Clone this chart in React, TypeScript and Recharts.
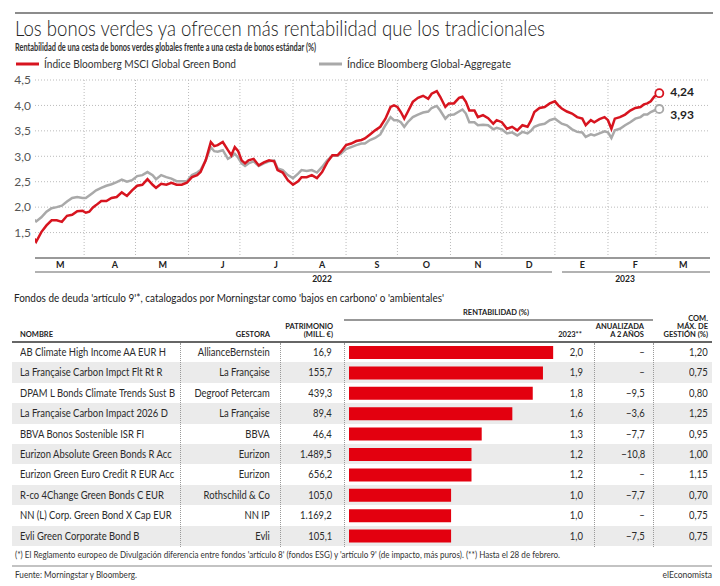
import { LineChart, Line, XAxis, YAxis, CartesianGrid, ReferenceLine, BarChart, Bar } from 'recharts'

// eje x: días desde el 1 de marzo de 2022
const days = [
  2, 3, 6, 9, 12, 15, 18, 21, 24, 27, 30, 32, 34, 36, 38, 41, 44, 47, 50, 53, 56, 59, 62, 65, 68, 71, 73, 76, 79, 82, 85, 88, 91, 94, 97,
  99, 102, 105, 107, 109, 112, 115, 117, 119, 121, 123, 125, 127, 130, 133, 136, 139, 142, 144, 147, 150, 153, 156, 158, 161, 164, 167, 170, 173, 176, 179, 181, 184, 187, 190, 193,
  195, 198, 201, 204, 207, 210, 212, 214, 216, 218, 220, 223, 226, 229, 232, 234, 237, 239, 242, 244, 247, 250, 252, 254, 256, 259, 261, 264, 267, 270, 272, 275, 278, 281, 284, 287, 290,
  292, 294, 297, 300, 303, 306, 308, 310, 313, 316, 319, 322, 324, 327, 329, 332, 335, 337, 339, 341, 344, 347, 350, 353, 356, 358, 360, 362, 364, 367,
]
const greenBond = [
  1.38, 1.32, 1.51, 1.64, 1.74, 1.74, 1.71, 1.83, 1.85, 1.92, 1.93, 1.89, 1.91, 1.99, 2.04, 2.12, 2.12, 2.18, 2.2, 2.29, 2.22, 2.33, 2.42, 2.44, 2.55, 2.44, 2.38, 2.46, 2.44, 2.48, 2.44, 2.44, 2.48, 2.59, 2.63,
  2.69, 2.92, 3.28, 3.2, 3.22, 3.28, 3.12, 3.02, 3.18, 3.1, 2.92, 2.86, 2.92, 2.95, 2.82, 2.88, 2.92, 2.9, 2.73, 2.68, 2.53, 2.44, 2.51, 2.59, 2.59, 2.63, 2.57, 2.69, 2.88, 3.02, 3.02, 3.09, 3.22, 3.25, 3.3, 3.32,
  3.35, 3.43, 3.51, 3.58, 3.74, 3.97, 4.0, 3.97, 3.87, 3.74, 3.87, 4.07, 4.15, 4.19, 4.13, 4.23, 4.28, 4.17, 3.97, 4.04, 4.04, 4.15, 4.17, 4.07, 3.9, 3.9, 3.77, 3.81, 3.75, 3.64, 3.71, 3.67, 3.54, 3.58, 3.51, 3.61, 3.58,
  3.7, 3.87, 3.95, 3.97, 4.04, 4.08, 4.0, 3.94, 3.88, 3.84, 3.77, 3.74, 3.61, 3.71, 3.67, 3.73, 3.77, 3.71, 3.54, 3.74, 3.77, 3.82, 3.9, 3.95, 3.97, 4.02, 4.04, 4.08, 4.17, 4.24,
]
const globalAgg = [
  1.75, 1.72, 1.8, 1.91, 1.98, 2.0, 2.03, 2.11, 2.18, 2.2, 2.18, 2.18, 2.23, 2.28, 2.33, 2.38, 2.42, 2.45, 2.49, 2.54, 2.5, 2.53, 2.61, 2.63, 2.69, 2.63, 2.55, 2.63, 2.59, 2.56, 2.51, 2.51, 2.51, 2.63, 2.68,
  2.73, 2.92, 3.18, 3.1, 3.09, 3.12, 2.95, 2.99, 3.05, 2.97, 2.86, 2.81, 2.86, 2.9, 2.81, 2.86, 2.9, 2.92, 2.76, 2.73, 2.63, 2.57, 2.66, 2.73, 2.71, 2.73, 2.68, 2.79, 2.92, 3.01, 3.01, 3.05, 3.14, 3.18, 3.22, 3.25,
  3.25, 3.32, 3.36, 3.43, 3.61, 3.77, 3.71, 3.71, 3.67, 3.58, 3.67, 3.77, 3.82, 3.86, 3.88, 3.95, 3.99, 3.9, 3.74, 3.81, 3.82, 3.88, 3.92, 3.84, 3.67, 3.67, 3.61, 3.62, 3.61, 3.53, 3.56, 3.53, 3.45, 3.47, 3.41, 3.48, 3.45,
  3.5, 3.58, 3.62, 3.64, 3.71, 3.74, 3.69, 3.64, 3.61, 3.53, 3.48, 3.47, 3.38, 3.43, 3.41, 3.45, 3.49, 3.47, 3.36, 3.51, 3.54, 3.61, 3.67, 3.74, 3.77, 3.82, 3.82, 3.87, 3.9, 3.93,
]

const monthStarts = [31, 61, 92, 122, 153, 184, 214, 245, 275, 306, 337, 365]
const monthLabelDays = [17, 49, 77, 112, 143, 170, 202, 231, 261, 291, 322, 353, 381]
const monthLabels = ['M', 'A', 'M', 'J', 'J', 'A', 'S', 'O', 'N', 'D', 'E', 'F', 'M']
const yTicks = [1.5, 2, 2.5, 3, 3.5, 4, 4.5]

const fundNames = [
  'AB Climate High Income AA EUR H',
  'La Française Carbon Impct Flt Rt R',
  'DPAM L Bonds Climate Trends Sust B',
  'La Française Carbon Impact 2026 D',
  'BBVA Bonos Sostenible ISR FI',
  'Eurizon Absolute Green Bonds R Acc',
  'Eurizon Green Euro Credit R EUR Acc',
  'R-co 4Change Green Bonds C EUR',
  'NN (L) Corp. Green Bond X Cap EUR',
  'Evli Green Corporate Bond B',
]
const managers = [
  'AllianceBernstein', 'La Française', 'Degroof Petercam', 'La Française', 'BBVA',
  'Eurizon', 'Eurizon', 'Rothschild & Co', 'NN IP', 'Evli',
]
const assets = [16.9, 155.7, 439.3, 89.4, 46.4, 1489.5, 656.2, 105.0, 1169.2, 105.1]
const ytd2023 = [2.0, 1.9, 1.8, 1.6, 1.3, 1.2, 1.2, 1.0, 1.0, 1.0]
const twoYear = [null, null, -9.5, -3.6, -7.7, -10.8, null, -7.7, null, -7.5]
const maxFee = [1.2, 0.75, 0.8, 1.25, 0.95, 1.0, 1.15, 0.7, 0.75, 0.75]

const RED = '#d7141f'
const GREY = '#a9a9a9'
const ROW_H = 20.4
const FONT = 'Lato, "Open Sans", sans-serif'

function fmt(n: number, d: number): string {
  const s = Math.abs(n).toFixed(d)
  const [int, dec] = s.split('.')
  const withDots = int.replace(/\B(?=(\d{3})+(?!\d))/g, '.')
  return (n < 0 ? '−' : '') + withDots + (dec ? ',' + dec : '')
}

const lineData = days.map((d, i) => ({ day: d, green: greenBond[i], agg: globalAgg[i] }))
const barData = fundNames.map((name, i) => ({ name, ytd: ytd2023[i] }))

function endDot(color: string, label: string, dy: number) {
  return (props: any) => {
    const { cx, cy, index } = props
    if (index !== days.length - 1) return <g key={`d${index}`} />
    return (
      <g key={`end-${color}`}>
        <circle cx={cx} cy={cy} r={4} fill="#fff" stroke={color} strokeWidth={1.8} />
        <text x={cx + 11} y={cy + dy} fontSize={12} fontWeight={700} fill="#222" dominantBaseline="central">
          {label}
        </text>
      </g>
    )
  }
}

function Txt({ children, left, right, scale = 0.82 }: any) {
  return (
    <span
      style={{
        position: 'absolute',
        left,
        right,
        top: 0,
        lineHeight: `${ROW_H}px`,
        whiteSpace: 'nowrap',
        transform: `scaleX(${scale})`,
        transformOrigin: left !== undefined ? 'left center' : 'right center',
      }}
    >
      {children}
    </span>
  )
}

function Table() {
  const sepX = [180, 280, 344, 594, 653]
  return (
    <>
      <div style={{ position: 'absolute', left: 12, top: 342, width: 700, height: ROW_H * fundNames.length, fontSize: 11.5, color: '#2a2a2a' }}>
        {fundNames.map((name, i) => (
          <div
            key={name}
            style={{ position: 'absolute', left: 0, top: i * ROW_H, width: 700, height: ROW_H, background: i % 2 ? '#ebebeb' : 'transparent' }}
          >
            <Txt left={8}>{name}</Txt>
            <Txt right={442}>{managers[i]}</Txt>
            <Txt right={380}>{fmt(assets[i], 1)}</Txt>
            <Txt right={129}>{fmt(ytd2023[i], 1)}</Txt>
            <Txt right={67}>{twoYear[i] === null ? '–' : fmt(twoYear[i] as number, 1)}</Txt>
            <Txt right={4}>{fmt(maxFee[i], 2)}</Txt>
          </div>
        ))}
      </div>
      {sepX.map((x) => (
        <div key={x} style={{ position: 'absolute', left: x, top: 343, height: ROW_H * fundNames.length, borderLeft: '1px dotted #999' }} />
      ))}
      <div style={{ position: 'absolute', left: 349, top: 342 }}>
        <BarChart width={245} height={ROW_H * fundNames.length} data={barData} layout="vertical" margin={{ top: 0, right: 0, bottom: 0, left: 0 }}>
          <XAxis type="number" domain={[0, 2.4]} hide />
          <YAxis type="category" dataKey="name" hide />
          <Bar dataKey="ytd" fill="#e3000f" barSize={13} isAnimationActive={false} />
        </BarChart>
      </div>
    </>
  )
}

export default function App() {
  const last = days.length - 1
  const hdr = { fontSize: 7.5, fontWeight: 700, fill: '#222' } as const
  return (
    <div style={{ position: 'absolute', left: 0, top: 0, width: 720, height: 586, background: '#fff', fontFamily: FONT, overflow: 'hidden' }}>
      <svg width={720} height={586} style={{ position: 'absolute', left: 0, top: 0 }} fontFamily={FONT}>
        <line x1={15} x2={713} y1={13} y2={13} stroke="#666" strokeWidth={1.5} />
        <text x={15} y={36} fontSize={21} fontWeight={300} fill="#222" textLength={530} lengthAdjust="spacingAndGlyphs">
          Los bonos verdes ya ofrecen más rentabilidad que los tradicionales
        </text>
        <text x={15} y={51} fontSize={11} fontWeight={700} fill="#333" textLength={301} lengthAdjust="spacingAndGlyphs">
          Rentabilidad de una cesta de bonos verdes globales frente a una cesta de bonos estándar (%)
        </text>
        <line x1={16} x2={39} y1={64} y2={64} stroke={RED} strokeWidth={3} />
        <text x={44} y={68} fontSize={11} fill="#333" textLength={192} lengthAdjust="spacingAndGlyphs">
          Índice Bloomberg MSCI Global Green Bond
        </text>
        <line x1={319} x2={342} y1={64} y2={64} stroke={GREY} strokeWidth={3} />
        <text x={347} y={68} fontSize={11} fill="#333" textLength={164} lengthAdjust="spacingAndGlyphs">
          Índice Bloomberg Global-Aggregate
        </text>

        <text x={14} y={302} fontSize={11} fill="#222" textLength={430} lengthAdjust="spacingAndGlyphs">
          Fondos de deuda 'artículo 9'*, catalogados por Morningstar como 'bajos en carbono' o 'ambientales'
        </text>
        <text x={496} y={315} textAnchor="middle" {...hdr}>RENTABILIDAD (%)</text>
        <line x1={344} x2={653} y1={320} y2={320} stroke="#333" strokeWidth={1.2} />
        <text x={20} y={337} {...hdr}>NOMBRE</text>
        <text x={270} y={337} textAnchor="end" {...hdr}>GESTORA</text>
        <text x={333} y={329} textAnchor="end" {...hdr}>PATRIMONIO</text>
        <text x={333} y={337} textAnchor="end" {...hdr}>(MILL. €)</text>
        <text x={582} y={337} textAnchor="end" {...hdr}>2023**</text>
        <text x={644} y={329} textAnchor="end" {...hdr}>ANUALIZADA</text>
        <text x={644} y={337} textAnchor="end" {...hdr}>A 2 AÑOS</text>
        <text x={708} y={321} textAnchor="end" {...hdr}>COM.</text>
        <text x={708} y={329} textAnchor="end" {...hdr}>MÁX. DE</text>
        <text x={708} y={337} textAnchor="end" {...hdr}>GESTIÓN (%)</text>
        <line x1={12} x2={712} y1={342} y2={342} stroke="#333" strokeWidth={1.5} />

        <text x={15} y={558} fontSize={8.5} fill="#333" textLength={545} lengthAdjust="spacingAndGlyphs">
          (*) El Reglamento europeo de Divulgación diferencia entre fondos 'artículo 8' (fondos ESG) y 'artículo 9' (de impacto, más puros). (**) Hasta el 28 de febrero.
        </text>
        <line x1={12} x2={712} y1={566} y2={566} stroke="#888" strokeWidth={1.2} />
        <text x={15} y={578} fontSize={8.5} fill="#333" textLength={122} lengthAdjust="spacingAndGlyphs">
          Fuente: Morningstar y Bloomberg.
        </text>
        <text x={712} y={578} fontSize={8.5} fill="#333" textAnchor="end">elEconomista</text>

        <line x1={35} x2={552} y1={272} y2={272} stroke="#999" strokeWidth={1.5} />
        <line x1={562} x2={710} y1={272} y2={272} stroke="#999" strokeWidth={1.5} />
        <text x={322} y={282} textAnchor="middle" fontSize={8.5} fontWeight={700} fill="#222">2022</text>
        <text x={625} y={282} textAnchor="middle" fontSize={8.5} fontWeight={700} fill="#222">2023</text>
      </svg>

      <div style={{ position: 'absolute', left: 0, top: 72 }}>
        <LineChart width={720} height={216} data={lineData} margin={{ top: 8, right: 10, bottom: 0, left: 0 }}>
          <CartesianGrid vertical={false} stroke="#bbb" strokeDasharray="1 2" />
          {monthStarts.map((d) => (
            <ReferenceLine key={d} x={d} stroke="#bbb" strokeDasharray="1 2" />
          ))}
          <XAxis
            dataKey="day"
            type="number"
            domain={[2.3, 396.6]}
            allowDataOverflow
            ticks={monthLabelDays}
            interval={0}
            tickFormatter={(v) => monthLabels[monthLabelDays.indexOf(v)]}
            tick={{ fontSize: 9, fontWeight: 700, fill: '#222' }}
            tickLine={false}
            tickSize={2}
            tickMargin={2}
            axisLine={{ stroke: '#999', strokeWidth: 2 }}
            height={30}
          />
          <YAxis
            type="number"
            domain={[1, 4.5]}
            ticks={yTicks}
            tickFormatter={(v) => v.toFixed(1).replace('.', ',')}
            tick={{ fontSize: 12, fill: '#555' }}
            axisLine={false}
            tickLine={false}
            tickSize={2}
            tickMargin={2}
            width={35}
          />
          <Line
            type="linear"
            dataKey="agg"
            stroke={GREY}
            strokeWidth={2.5}
            dot={endDot(GREY, fmt(globalAgg[last], 2), 6)}
            isAnimationActive={false}
          />
          <Line
            type="linear"
            dataKey="green"
            stroke={RED}
            strokeWidth={2.5}
            dot={endDot(RED, fmt(greenBond[last], 2), -2)}
            isAnimationActive={false}
          />
        </LineChart>
      </div>

      <Table />
    </div>
  )
}
